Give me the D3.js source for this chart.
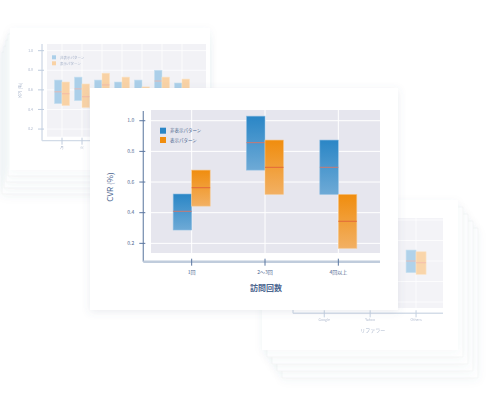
<!DOCTYPE html>
<html>
<head>
<meta charset="utf-8">
<script src="https://cdn.jsdelivr.net/npm/d3@7"></script>
<style>
  body { margin: 0; background: #fff; }
  text { font-family: "Noto Sans CJK JP", "Noto Sans", sans-serif; }
</style>
</head>
<body>
<div id="chart"></div>
<script>
// --- dati ---
const seriesNames = ["非表示パターン", "表示パターン"];

// grafico principale
const mainCats = ["1回", "2〜3回", "4回以上"];
const mainLow  = [[0.287, 0.678, 0.52], [0.443, 0.52, 0.168]];
const mainMid  = [[0.409, 0.857, 0.696], [0.563, 0.696, 0.344]];
const mainHigh = [[0.522, 1.03, 0.874], [0.678, 0.874, 0.52]];
const mainTicks = [0.2, 0.4, 0.6, 0.8, 1.0];

// grafico dietro a sinistra
const leftCats = ["月", "火", "水", "木", "金", "土", "日"];
const leftLow  = [[0.46, 0.49, 0.46, 0.44, 0.46, 0.56, 0.43], [0.44, 0.42, 0.53, 0.49, 0.39, 0.49, 0.47]];
const leftMid  = [[0.58, 0.61, 0.58, 0.56, 0.58, 0.69, 0.55], [0.56, 0.53, 0.65, 0.61, 0.51, 0.61, 0.59]];
const leftHigh = [[0.70, 0.73, 0.70, 0.68, 0.70, 0.80, 0.67], [0.68, 0.66, 0.77, 0.73, 0.63, 0.73, 0.71]];
const leftTicks = [0.2, 0.4, 0.6, 0.8, 1.0];

// grafico dietro a destra
const rightCats = ["Google", "Yahoo", "Others"];
const rightLow  = [[0.45, 0.50, 0.486], [0.43, 0.47, 0.47]];
const rightMid  = [[0.57, 0.61, 0.60], [0.55, 0.59, 0.583]];
const rightHigh = [[0.69, 0.72, 0.707], [0.67, 0.71, 0.69]];
const rightTicks = [0.2, 0.4, 0.6, 0.8, 1.0];

const W = 488, H = 398;
const svg = d3.select("#chart").append("svg").attr("width", W).attr("height", H);
const defs = svg.append("defs");

// ombre morbide per le schede
function shadow(id, op) {
  const f = defs.append("filter").attr("id", id)
    .attr("x", "-20%").attr("y", "-20%").attr("width", "140%").attr("height", "140%");
  f.append("feDropShadow").attr("dx", 0).attr("dy", 2).attr("stdDeviation", 4)
    .attr("flood-color", "#5a6a85").attr("flood-opacity", op);
}
shadow("shadow", 0.12);
shadow("shadowSoft", 0.05);

function grad(id, c1, c2) {
  const g = defs.append("linearGradient").attr("id", id)
    .attr("x1", 0).attr("y1", 0).attr("x2", 0).attr("y2", 1);
  g.append("stop").attr("offset", "0%").attr("stop-color", c1);
  g.append("stop").attr("offset", "100%").attr("stop-color", c2);
}
grad("gBlue", "#2a86c6", "#6eaad6");
grad("gOrange", "#f08d0e", "#f2b063");

// pila di schede
function cardStack(x, y, w, h, dx, dy, n) {
  for (let i = n; i >= 1; i--) {
    svg.append("rect")
      .attr("x", x + dx * i).attr("y", y + dy * i)
      .attr("width", w).attr("height", h)
      .attr("fill", "#fff").attr("stroke", "#f3f4f6").attr("stroke-width", 0.8)
      .attr("filter", "url(#shadowSoft)");
  }
  svg.append("rect").attr("x", x).attr("y", y).attr("width", w).attr("height", h)
    .attr("fill", "#fff").attr("filter", "url(#shadowSoft)");
}

// disegna un grafico a box
function drawChart(o) {
  const g = svg.append("g").attr("opacity", o.opacity);
  const x = d3.scaleBand().domain(o.cats).range(o.xRange);
  const y = d3.scaleLinear().domain(o.yDomain).range(o.yRange);
  const [py1, py0] = o.yRange;

  g.append("rect").attr("x", o.plotX[0]).attr("y", py0)
    .attr("width", o.plotX[1] - o.plotX[0]).attr("height", py1 - py0)
    .attr("fill", o.bg);

  // griglia
  g.selectAll(".hg").data(o.ticks).enter().append("line")
    .attr("x1", o.plotX[0]).attr("x2", o.plotX[1])
    .attr("y1", d => y(d)).attr("y2", d => y(d))
    .attr("stroke", "#fff").attr("stroke-width", o.gridW);
  g.selectAll(".vg").data(o.cats).enter().append("line")
    .attr("x1", d => x(d) + x.bandwidth() / 2).attr("x2", d => x(d) + x.bandwidth() / 2)
    .attr("y1", py0).attr("y2", py1)
    .attr("stroke", "#fff").attr("stroke-width", o.gridW);

  // box
  o.low.forEach((serie, s) => {
    const bars = g.append("g");
    o.cats.forEach((c, i) => {
      const cx = x(c) + x.bandwidth() / 2;
      const bx = s === 0 ? cx - o.barW : cx;
      bars.append("rect")
        .attr("x", bx).attr("y", y(o.high[s][i]))
        .attr("width", o.barW).attr("height", y(o.low[s][i]) - y(o.high[s][i]))
        .attr("fill", o.fills[s])
        .attr("stroke", o.strokes[s]).attr("stroke-width", 0.6);
      bars.append("line")
        .attr("x1", bx).attr("x2", bx + o.barW)
        .attr("y1", y(o.mid[s][i])).attr("y2", y(o.mid[s][i]))
        .attr("stroke", o.medColors[s]).attr("stroke-width", o.medW);
    });
  });

  // assi
  g.append("line").attr("x1", o.axisX).attr("x2", o.axisX)
    .attr("y1", o.yAxisTop).attr("y2", o.xAxisY)
    .attr("stroke", o.yAxisColor).attr("stroke-width", o.yAxisW);
  g.append("line").attr("x1", o.axisX).attr("x2", o.plotX[1])
    .attr("y1", o.xAxisY).attr("y2", o.xAxisY)
    .attr("stroke", o.xAxisColor).attr("stroke-width", o.xAxisW);

  g.selectAll(".yt").data(o.ticks).enter().append("line")
    .attr("x1", o.axisX - 4).attr("x2", o.axisX + 2)
    .attr("y1", d => y(d)).attr("y2", d => y(d))
    .attr("stroke", o.tickColor).attr("stroke-width", 1);
  if (!o.noYLabels) {
    g.selectAll(".yl").data(o.ticks).enter().append("text")
      .attr("x", o.axisX - 9).attr("y", d => y(d)).attr("dy", "0.35em")
      .attr("text-anchor", "end").attr("font-size", o.tickFont).attr("fill", o.textColor)
      .text(d => d3.format(".1f")(d));
  }

  g.selectAll(".xt").data(o.cats).enter().append("line")
    .attr("x1", d => x(d) + x.bandwidth() / 2).attr("x2", d => x(d) + x.bandwidth() / 2)
    .attr("y1", o.xAxisY - 3).attr("y2", o.xAxisY + 4)
    .attr("stroke", o.tickColor).attr("stroke-width", 1);
  g.selectAll(".xl").data(o.cats).enter().append("text")
    .attr("x", d => x(d) + x.bandwidth() / 2).attr("y", o.xAxisY + o.xLabOff)
    .attr("text-anchor", "middle").attr("font-size", o.tickFont).attr("fill", o.textColor)
    .text(d => d);

  if (o.xTitle) {
    g.append("text").attr("x", o.xTitle[1]).attr("y", o.xTitle[2])
      .attr("text-anchor", "middle").attr("font-size", o.titleFont)
      .attr("font-weight", o.titleWeight).attr("fill", o.titleColor).text(o.xTitle[0]);
  }
  if (o.yTitle) {
    g.append("text").attr("transform", `translate(${o.yTitle[1]},${o.yTitle[2]}) rotate(-90)`)
      .attr("text-anchor", "middle").attr("font-size", o.titleFont)
      .attr("fill", o.titleColor).text(o.yTitle[0]);
  }
  if (o.legend) {
    const [lx, ly, step, sz, fs] = o.legend;
    seriesNames.forEach((n, i) => {
      g.append("rect").attr("x", lx).attr("y", ly + i * step - sz / 2)
        .attr("width", sz).attr("height", sz).attr("fill", o.legendFills[i]);
      g.append("text").attr("x", lx + sz + 4).attr("y", ly + i * step).attr("dy", "0.35em")
        .attr("font-size", fs).attr("fill", o.textColor).text(n);
    });
  }
}

// scheda dietro a sinistra
cardStack(10, 28, 200, 142, -2, 6, 4);
drawChart({
  opacity: 0.75, cats: leftCats, xRange: [52, 192], yDomain: [0.122, 1.068], yRange: [136.7, 44],
  plotX: [47, 206], bg: "#eeeef4", gridW: 0.8, ticks: leftTicks,
  low: leftLow, mid: leftMid, high: leftHigh, barW: 7.5,
  fills: ["#8fc0e2", "#f7c487"], strokes: ["#b5d6ec", "#fad9b0"], medColors: ["#f09a8a", "#f09a8a"], medW: 0.8,
  axisX: 42, yAxisTop: 44, xAxisY: 140.7, yAxisColor: "#aabcd4", yAxisW: 1, xAxisColor: "#c3cfdf", xAxisW: 1.2,
  tickColor: "#aabcd4", tickFont: 3.5, textColor: "#8a9ab8", xLabOff: 8,
  yTitle: ["KPI (%)", 22, 90], titleFont: 4.5, titleColor: "#8a9ab8",
  legend: [52, 57.3, 6, 4, 3.5], legendFills: ["#8fc0e2", "#f7c487"]
});

// scheda dietro a destra
cardStack(262, 200, 196, 150, 5, 7, 4);
drawChart({
  opacity: 0.7, cats: rightCats, xRange: [301.3, 439], yDomain: [0.141, 1.02], yRange: [308, 218],
  plotX: [298, 443], bg: "#eeeef4", gridW: 0.8, ticks: rightTicks, noYLabels: true,
  low: rightLow, mid: rightMid, high: rightHigh, barW: 10,
  fills: ["#8fc0e2", "#f7c487"], strokes: ["#b5d6ec", "#fad9b0"], medColors: ["#f09a8a", "#f09a8a"], medW: 0.8,
  axisX: 293, yAxisTop: 218, xAxisY: 313.3, yAxisColor: "#aabcd4", yAxisW: 1, xAxisColor: "#c3cfdf", xAxisW: 1.5,
  tickColor: "#aabcd4", tickFont: 3.5, textColor: "#8a9ab8", xLabOff: 8,
  xTitle: ["リファラー", 372.7, 332], titleFont: 5, titleWeight: "normal", titleColor: "#8a9ab8"
});

// scheda principale
svg.append("rect").attr("x", 90).attr("y", 88).attr("width", 308).attr("height", 222)
  .attr("fill", "#fff").attr("filter", "url(#shadow)");
drawChart({
  opacity: 1, cats: mainCats, xRange: [155, 375], yDomain: [0.137, 1.07], yRange: [253, 110],
  plotX: [151, 380], bg: "#e6e6ee", gridW: 1, ticks: mainTicks,
  low: mainLow, mid: mainMid, high: mainHigh, barW: 18.5,
  fills: ["url(#gBlue)", "url(#gOrange)"], strokes: ["#8dbde2", "#f6c78e"],
  medColors: ["#c97a73", "#e2683a"], medW: 1,
  axisX: 143.3, yAxisTop: 111, xAxisY: 261.7, yAxisColor: "#7d93b3", yAxisW: 1.3, xAxisColor: "#c0ccdc", xAxisW: 2.5,
  tickColor: "#5a76a0", tickFont: 5, textColor: "#4c6690", xLabOff: 12,
  xTitle: ["訪問回数", 266, 291], yTitle: ["CVR (%)", 113, 187],
  titleFont: 8, titleWeight: "bold", titleColor: "#4c6690",
  legend: [160, 130.7, 9.3, 6, 4.5], legendFills: ["#2a86c6", "#f08d0e"]
});
</script>
</body>
</html>
